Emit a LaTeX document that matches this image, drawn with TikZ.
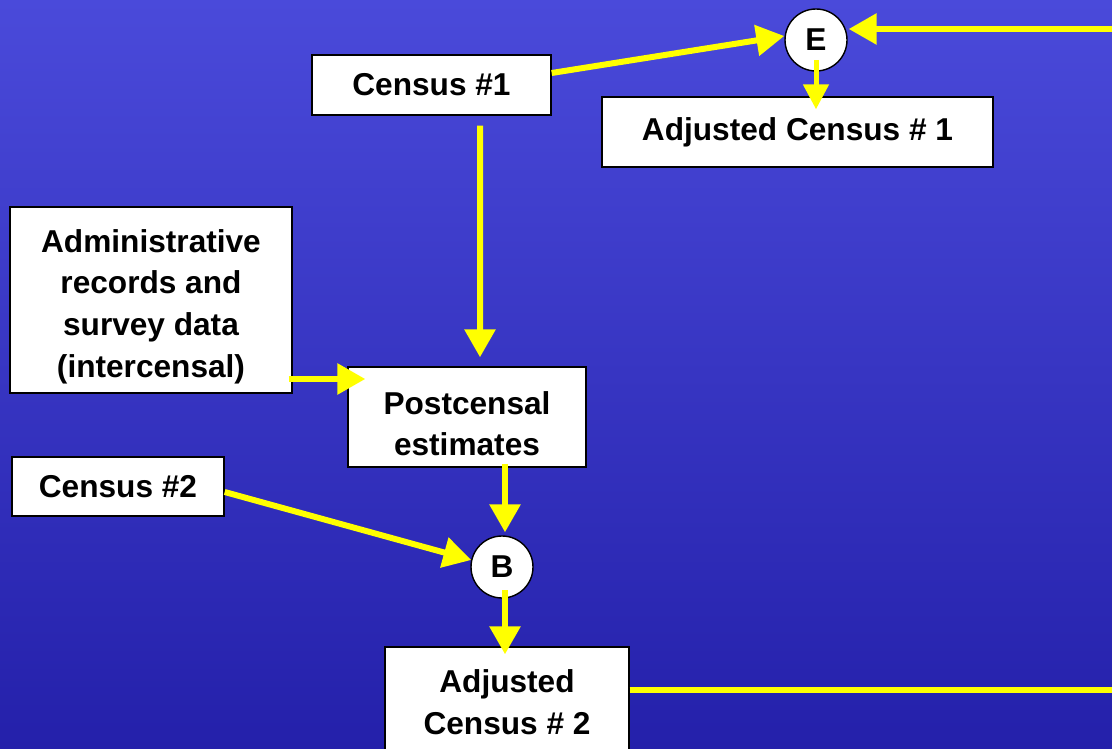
\documentclass[tikz,border=0pt]{standalone}
\usepackage{fontspec}
\setmainfont{Liberation Sans}
\usetikzlibrary{arrows.meta, calc, positioning}
\definecolor{bgtop}{RGB}{74,74,218}
\definecolor{bgbot}{RGB}{36,32,170}
\definecolor{wire}{RGB}{255,255,0}
\newcommand{\firstlift}{\rule{0pt}{1.15em}}
\tikzset{
    my-box/.style={
        draw=black, fill=white, line width=0.8pt, inner sep=0pt, align=center,
        font=\fontsize{18}{23.8}\selectfont\bfseries
    },
    my-op/.style={
        circle, draw=black, fill=white, line width=0.8pt, inner sep=0pt,
        minimum size=1.24cm, font=\fontsize{18}{23.8}\selectfont\bfseries
    },
    my-wire/.style={
        draw=wire, line width=0.12cm, -{Triangle[length=0.56cm, width=0.6cm]}
    },
}

\begin{document}
\begin{tikzpicture}[x=0.02cm, y=-0.02cm]

        % BACKGROUND
        \useasboundingbox (0,0) rectangle (1112,749);
        \clip (0,0) rectangle (1112,749);
        \fill[top color=bgtop, bottom color=bgbot] (0,0) rectangle (1112,749);

        % SOURCES
        \node[my-box, minimum width=4.78cm, minimum height=1.2cm]  (census1) at (431.5,85)  {Census \#1};
        \node[my-box, minimum width=5.64cm, minimum height=3.72cm] (admin)   at (151,300)   {\firstlift Administrative\\records and\\survey data\\(intercensal)};
        \node[my-box, minimum width=4.24cm, minimum height=1.18cm] (census2) at (118,486.5) {Census \#2};

        % RESULTS
        \node[my-box, minimum width=4.76cm, minimum height=2cm]    (post)    at (467,417)   {\firstlift Postcensal\\estimates};
        \node[my-box, minimum width=7.82cm, minimum height=1.4cm]  (adj1)    at (797.5,132) {Adjusted Census \# 1};
        \node[my-box, minimum width=4.88cm, minimum height=2.2cm]  (adj2)    at (507,702)   {Adjusted\\Census \# 2};

        % OPERATORS
        \node[my-op] (E) at (816,40)  {E};
        \node[my-op] (B) at (502,567) {B};

        % WIRE CONNECTOR POINTS
        \coordinate (EIN)  at (1112,29);
        \coordinate (OUT)  at (1112,690);

        % CONNECTIONS INTO E
        \draw[my-wire] ($(census1.east) + (0,-12)$) -- ($(E.west) + (0,-4)$);
        \draw[my-wire] (EIN) -- ($(E.east) + (1,-11)$);
        \draw[my-wire, -{Triangle[length=0.5cm, width=0.5cm]}, line width=0.1cm]
            ($(E.center) + (0,20)$) -- ($(E |- adj1.north) + (0,13)$);

        % CONNECTIONS INTO POSTCENSAL
        \draw[my-wire] ($(census1.south) + (48.5,10)$) -- ($(post.north) + (13,-9)$);
        \draw[my-wire] ($(admin.east) + (-4,79)$)      -- ($(post.west) + (18,-38)$);

        % CONNECTIONS INTO B
        \draw[my-wire] ($(post.south) + (38,-4)$)      -- ($(B.north) + (3,-3)$);
        \draw[my-wire] ($(census2.east) + (0,5.5)$)    -- ($(B.west) + (1,-7)$);
        \draw[my-wire] ($(B.center) + (3,23)$)         -- ($(adj2.north) + (-2,8)$);

        % OUTPUT CONNECTION
        \draw[draw=wire, line width=0.12cm] ($(adj2.east) + (0,-12)$) -- (OUT);

\end{tikzpicture}
\end{document}
